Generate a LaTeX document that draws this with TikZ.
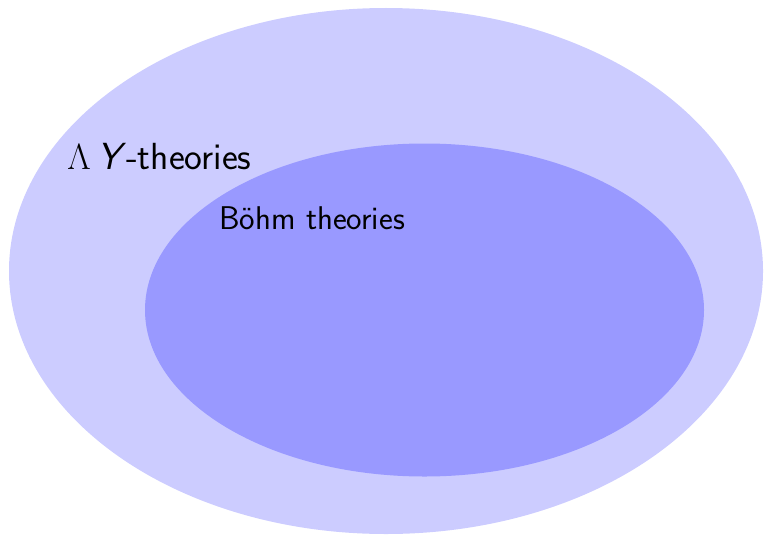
\documentclass[tikz,border=0pt]{standalone}
\usepackage{amsmath}
\usepackage{tikz}
\usetikzlibrary{shapes.geometric}

\begin{document}
\begin{tikzpicture}[
  font=\sffamily,
  region/.style={ellipse, inner sep=0pt, draw=none},
  label/.style={inner sep=0pt, anchor=base west}
]
\useasboundingbox (0,0) rectangle (15.28,10.70);
\node[region, fill=blue!20, minimum width=15.08cm, minimum height=10.52cm] (lambday) at (7.72,5.28) {};
\node[region, fill=blue!40, minimum width=11.18cm, minimum height=6.66cm] (bohm) at (8.49,4.50) {};
\node[label, font=\sffamily\fontsize{21.5}{25}\selectfont] (lambdaytext) at (1.34,7.31) {$\Lambda$\,\textit{Y}-theories};
\node[label, font=\sffamily\fontsize{18.7}{22}\selectfont] (bohmtext) at (4.38,6.11) {Böhm theories};
\end{tikzpicture}
\end{document}
